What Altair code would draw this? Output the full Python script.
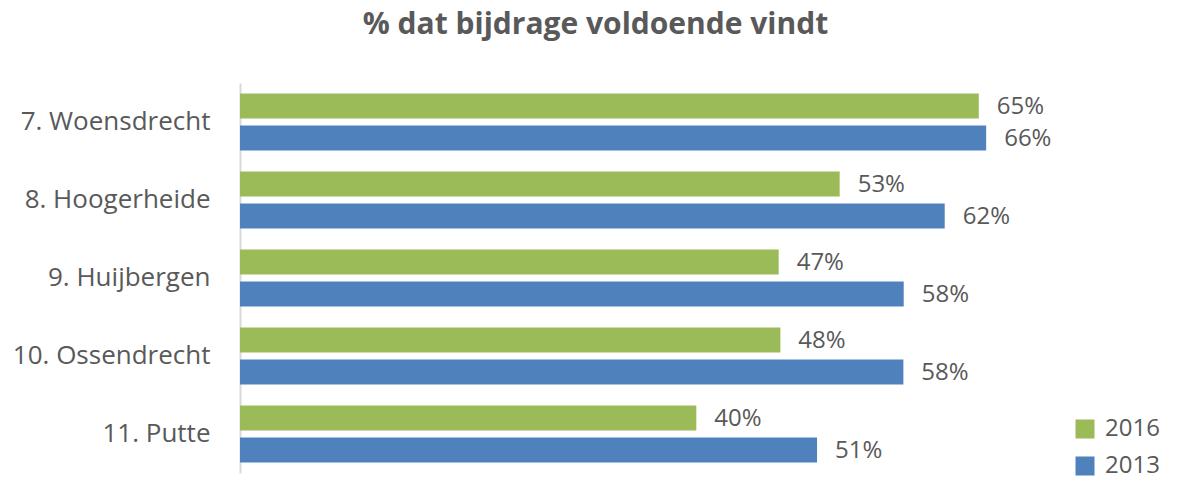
import altair as alt
import pandas as pd

places = ["7. Woensdrecht", "8. Hoogerheide", "9. Huijbergen", "10. Ossendrecht", "11. Putte"]
# bar lengths (percent)
v2016 = [65.05, 52.8, 47.43, 47.58, 40.18]
v2013 = [65.7, 62.05, 58.44, 58.41, 50.81]
lab2016 = ["65%", "53%", "47%", "48%", "40%"]
lab2013 = ["66%", "62%", "58%", "58%", "51%"]
years = ["2016", "2013"]
colors = ["#9BBB59", "#4F81BD"]

rows = []
for p, a, b, la, lb in zip(places, v2016, v2013, lab2016, lab2013):
    rows.append({"plaats": p, "jaar": "2016", "waarde": a, "label": la})
    rows.append({"plaats": p, "jaar": "2013", "waarde": b, "label": lb})
df = pd.DataFrame(rows)

FONT = "Open Sans"
GRAY = "#595959"

base = alt.Chart(df).encode(
    y=alt.Y("plaats:N", sort=places,
            scale=alt.Scale(paddingInner=0.27, paddingOuter=0.135),
            axis=alt.Axis(title=None, ticks=False, labelPadding=30, labelFontSize=26,
                          labelFont=FONT, labelColor=GRAY, domainColor="#D9D9D9",
                          domainWidth=2, labelLimit=400)),
    yOffset=alt.YOffset("jaar:N", sort=years, scale=alt.Scale(paddingInner=0.219, paddingOuter=0)),
    x=alt.X("waarde:Q", scale=alt.Scale(domain=[0, 70]), axis=None),
)

bars = base.mark_bar().encode(
    color=alt.Color("jaar:N", sort=years,
                    scale=alt.Scale(domain=years, range=colors),
                    legend=alt.Legend(title=None, orient="none", legendX=833, legendY=334,
                                      symbolType="square", symbolSize=361, symbolStrokeWidth=0,
                                      symbolOpacity=1,
                                      labelFontSize=24, labelFont=FONT, labelColor=GRAY,
                                      labelOffset=8, rowPadding=13))
)

labels = base.mark_text(align="left", baseline="middle", dx=18, dy=1, fontSize=24,
                        font=FONT, color=GRAY).encode(text="label:N")

chart = (bars + labels).properties(
    width=795, height=390,
    title=alt.Title("% dat bijdrage voldoende vindt", anchor="middle", frame="group",
                    dx=-42, offset=19, baseline="alphabetic", fontSize=30,
                    font=FONT, fontWeight="bold", color=GRAY),
    autosize=alt.AutoSizeParams(type="none"),
    padding={"left": 232, "top": 75, "right": 136, "bottom": 7},
).configure_view(stroke=None)

chart.save("out.html", embed_options={"renderer": "svg", "actions": False})
